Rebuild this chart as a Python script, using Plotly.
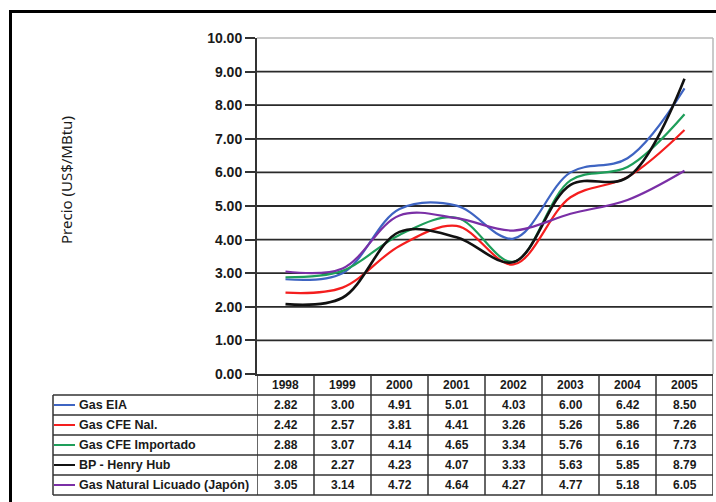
import plotly.graph_objects as go

# ---- data ----
years = ["1998", "1999", "2000", "2001", "2002", "2003", "2004", "2005"]
series_names = ["Gas EIA", "Gas CFE Nal.", "Gas CFE Importado", "BP - Henry Hub",
                "Gas Natural Licuado (Japón)"]
gas_eia = [2.82, 3.00, 4.91, 5.01, 4.03, 6.00, 6.42, 8.50]
gas_cfe_nal = [2.42, 2.57, 3.81, 4.41, 3.26, 5.26, 5.86, 7.26]
gas_cfe_imp = [2.88, 3.07, 4.14, 4.65, 3.34, 5.76, 6.16, 7.73]
bp_henry_hub = [2.08, 2.27, 4.23, 4.07, 3.33, 5.63, 5.85, 8.79]
gnl_japon = [3.05, 3.14, 4.72, 4.64, 4.27, 4.77, 5.18, 6.05]
y_ticks = [0, 1, 2, 3, 4, 5, 6, 7, 8, 9, 10]
y_title = "Precio (US$/MBtu)"

series_values = [gas_eia, gas_cfe_nal, gas_cfe_imp, bp_henry_hub, gnl_japon]
colors = ["#3E64C2", "#F41E1E", "#1E9E5A", "#111111", "#7A2FA6"]
widths = [2.2, 2.2, 2.2, 2.6, 2.2]

# ---- geometry (pixels) ----
W, H = 716, 502
L, R, T, B = 257, 713, 38, 374
pw, ph = R - L, B - T


def px(p):
    return (p - L) / pw


def py(p):
    return (B - p) / ph


xs = list(range(len(years)))

fig = go.Figure()
for name, vals, c, w in zip(series_names, series_values, colors, widths):
    fig.add_trace(go.Scatter(x=xs, y=vals, name=name, mode="lines",
                             line=dict(color=c, width=w, shape="spline", smoothing=1.0),
                             showlegend=False, hoverinfo="skip"))

shapes = []
annotations = []
grid_col = "#2a2a2a"
# grid lines
for t in y_ticks[1:-1]:
    shapes.append(dict(type="line", xref="paper", yref="y", x0=0, x1=1, y0=t, y1=t,
                       line=dict(color=grid_col, width=1.8), layer="below"))
# top & right light border
shapes.append(dict(type="line", xref="paper", yref="paper", x0=0, x1=1, y0=1, y1=1,
                   line=dict(color="#b8b8b8", width=1.5), layer="below"))
shapes.append(dict(type="line", xref="paper", yref="paper", x0=1, x1=1, y0=0, y1=1,
                   line=dict(color="#b8b8b8", width=1.5), layer="below"))

# table
tab_col = "#333333"
row_px = [374.5, 395, 415, 435, 455, 475, 495]
label_left = px(53)
# horizontal lines of data rows
for rp in row_px[1:]:
    shapes.append(dict(type="line", xref="paper", yref="paper", x0=label_left, x1=1,
                       y0=py(rp), y1=py(rp), line=dict(color=tab_col, width=1.5)))
# vertical lines
for k in range(len(years) + 1):
    shapes.append(dict(type="line", xref="x", yref="paper", x0=k - 0.5, x1=k - 0.5,
                       y0=py(row_px[0]), y1=py(row_px[-1]),
                       line=dict(color=tab_col, width=1.5)))
shapes.append(dict(type="line", xref="paper", yref="paper", x0=label_left, x1=label_left,
                   y0=py(row_px[1]), y1=py(row_px[-1]), line=dict(color=tab_col, width=1.5)))

tfont = dict(family="Liberation Sans, Arial", size=12, color="#1a1a1a")
lfont = dict(family="Liberation Sans, Arial", size=12.5, color="#1a1a1a")
# header
for k, yr in enumerate(years):
    annotations.append(dict(x=k, xref="x", y=py((row_px[0] + row_px[1]) / 2), yref="paper",
                            text="<b>%s</b>" % yr, showarrow=False, font=tfont,
                            xanchor="center", yanchor="middle"))
# rows
for i, (name, vals, c) in enumerate(zip(series_names, series_values, colors)):
    yc = py((row_px[i + 1] + row_px[i + 2]) / 2)
    shapes.append(dict(type="line", xref="paper", yref="paper", x0=px(54), x1=px(75),
                       y0=yc, y1=yc, line=dict(color=c, width=2)))
    annotations.append(dict(x=px(77), xref="paper", y=yc, yref="paper",
                            text="<b>%s</b>" % name, showarrow=False, font=lfont,
                            xanchor="left", yanchor="middle"))
    for k, v in enumerate(vals):
        annotations.append(dict(x=k, xref="x", y=yc, yref="paper",
                                text="<b>%.2f</b>" % v, showarrow=False, font=tfont,
                                xanchor="center", yanchor="middle"))

# y axis title
annotations.append(dict(x=px(66), xref="paper", y=py(180), yref="paper", text=y_title,
                        textangle=-90, showarrow=False,
                        font=dict(family="Noto Sans", size=15, color="#1a1a1a"),
                        xanchor="center", yanchor="middle"))

# outer frame
shapes.append(dict(type="rect", xref="paper", yref="paper", x0=px(10.5), x1=px(730),
                   y0=py(520), y1=py(11.5), line=dict(color="#000000", width=3)))

fig.update_layout(
    width=W, height=H,
    margin=dict(l=L, r=W - R, t=T, b=H - B),
    paper_bgcolor="white", plot_bgcolor="white",
    shapes=shapes, annotations=annotations,
    xaxis=dict(range=[-0.5, len(years) - 0.5], showgrid=False, zeroline=False,
               showticklabels=False, ticks="", showline=True, linecolor=tab_col,
               linewidth=1.8, fixedrange=True),
    yaxis=dict(range=[0, 10], tickvals=y_ticks,
               ticktext=["<b>%.2f</b>" % t for t in y_ticks],
               showgrid=False, zeroline=False, showline=True, linecolor=tab_col,
               linewidth=2, ticks="outside", ticklen=10, tickwidth=1.5, tickcolor=tab_col,
               tickfont=dict(family="Liberation Sans, Arial", size=14, color="#1a1a1a"),
               fixedrange=True),
)

fig.write_html("out.html")
